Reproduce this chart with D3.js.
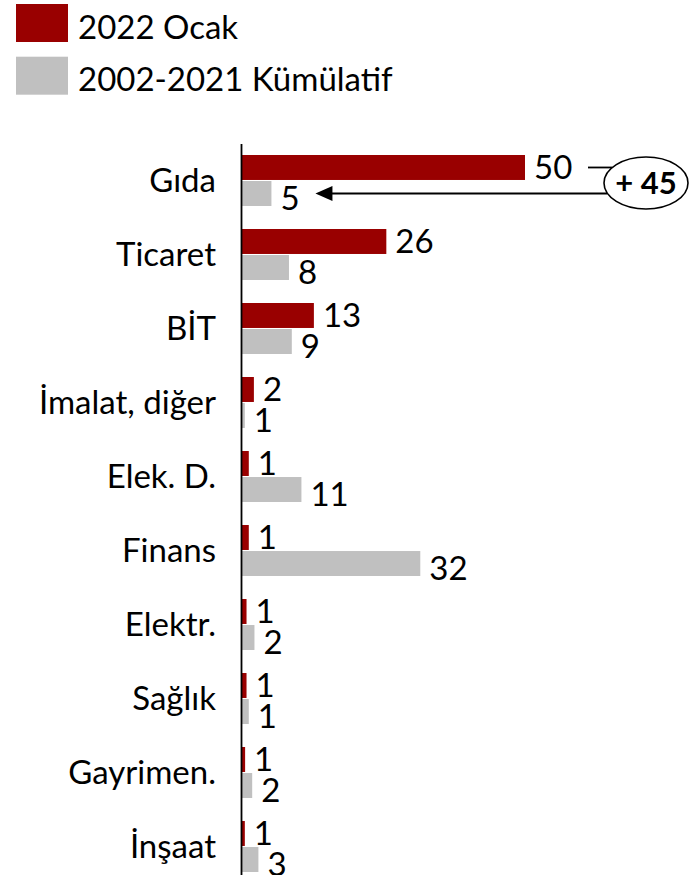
<!DOCTYPE html>
<html>
<head>
<meta charset="utf-8">
<script src="https://cdn.jsdelivr.net/npm/d3@7"></script>
<style>
  body { margin: 0; background: #fff; }
  svg text { font-family: Lato, "Open Sans", sans-serif; fill: #000; }
</style>
</head>
<body>
<div id="chart"></div>
<script>
// categories and the two series (bar lengths, labels are rounded)
const categories = ["Gıda", "Ticaret", "BİT", "İmalat, diğer", "Elek. D.", "Finans", "Elektr.", "Sağlık", "Gayrimen.", "İnşaat"]
const ocak2022 = [50, 25.5, 12.7, 2.1, 1.2, 1.2, 0.8, 0.8, 0.55, 0.5]
const kumulatif = [5.2, 8.3, 8.8, 0.5, 10.5, 31.5, 2.2, 1.2, 1.8, 2.9]
const seriesNames = ["2022 Ocak", "2002-2021 Kümülatif"]
const colors = ["#990000", "#c0c0c0"]
const diffLabel = "+ 45"

const W = 689, H = 875
const axisX = 241.5
const fs = 33

const svg = d3.select("#chart").append("svg").attr("width", W).attr("height", H)

const data = categories.map((c, i) => ({cat: c, vals: [ocak2022[i], kumulatif[i]]}))

const xScale = d3.scaleLinear().domain([0, 50]).range([242, 525])
const yScale = d3.scaleBand().domain(categories).range([155, 872]).paddingInner(0.311).paddingOuter(0).align(0)
const inner = d3.scaleBand().domain([0, 1]).range([0, yScale.bandwidth()]).paddingInner(0.04)

// legend
const legend = svg.append("g")
seriesNames.forEach((s, i) => {
  legend.append("rect").attr("x", 16).attr("y", 4 + i * 52.7).attr("width", 52).attr("height", 38).attr("fill", colors[i])
  legend.append("text").attr("x", 78).attr("y", 39 + i * 51.5).attr("font-size", fs).text(s)
})

// bars
const groups = svg.selectAll(".grp").data(data).enter().append("g")
  .attr("class", "grp")
  .attr("transform", d => `translate(0,${yScale(d.cat)})`)

groups.selectAll("rect").data(d => d.vals).enter().append("rect")
  .attr("x", xScale(0))
  .attr("y", (d, i) => inner(i))
  .attr("width", d => xScale(d) - xScale(0))
  .attr("height", inner.bandwidth())
  .attr("fill", (d, i) => colors[i])

groups.selectAll("text").data(d => d.vals).enter().append("text")
  .attr("x", d => xScale(d) + 9)
  .attr("y", (d, i) => inner(i) + inner.bandwidth() / 2 + (i === 1 ? 5 : 0))
  .attr("dy", "0.36em")
  .attr("font-size", fs)
  .text(d => Math.round(d))

// category axis
const yAxis = d3.axisLeft(yScale).tickSize(0).tickPadding(0)
const yGroup = svg.append("g").attr("transform", `translate(216,0)`).call(yAxis)
yGroup.select(".domain").remove()
yGroup.selectAll("text").attr("font-size", fs).attr("font-family", "Lato, sans-serif").attr("fill", "#000").attr("dy", "0.36em")

svg.append("line").attr("x1", axisX).attr("x2", axisX).attr("y1", 144).attr("y2", H)
  .attr("stroke", "#000").attr("stroke-width", 1.8)

// annotation: difference bubble
const cx = xScale(ocak2022[0]) + 121, cy = yScale(categories[0]) + 28, rx = 42, ry = 26
const redMid = yScale(categories[0]) + inner(0) + inner.bandwidth() / 2
const grayMid = yScale(categories[0]) + inner(1) + inner.bandwidth() / 2
const edgeX = y => cx - rx * Math.sqrt(1 - Math.pow((y - cy) / ry, 2))
const tipX = xScale(kumulatif[0]) + 44

svg.append("line").attr("x1", xScale(ocak2022[0]) + 63).attr("x2", edgeX(redMid)).attr("y1", redMid).attr("y2", redMid)
  .attr("stroke", "#000").attr("stroke-width", 1.8)
svg.append("line").attr("x1", edgeX(grayMid)).attr("x2", tipX + 10).attr("y1", grayMid).attr("y2", grayMid)
  .attr("stroke", "#000").attr("stroke-width", 1.8)
svg.append("path")
  .attr("d", `M${tipX},${grayMid} L${tipX + 17},${grayMid - 7.5} L${tipX + 17},${grayMid + 7.5} Z`)
  .attr("fill", "#000")

svg.append("ellipse").attr("cx", cx).attr("cy", cy).attr("rx", rx).attr("ry", ry)
  .attr("fill", "#fff").attr("stroke", "#000").attr("stroke-width", 1.6)
svg.append("text").attr("x", cx).attr("y", cy).attr("dy", "0.36em").attr("text-anchor", "middle")
  .attr("font-size", 31).attr("font-weight", "bold").text(diffLabel)
</script>
</body>
</html>
